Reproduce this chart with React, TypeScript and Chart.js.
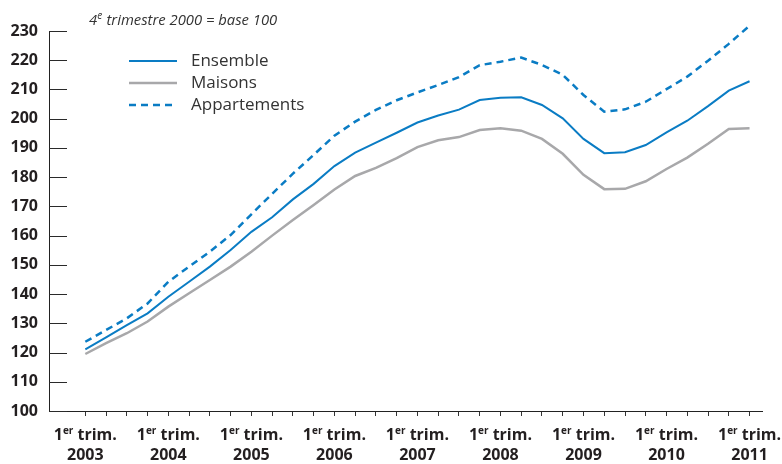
import React, { useEffect, useRef } from 'react';
import { Chart, registerables } from 'chart.js';

Chart.register(...registerables);

const QUARTERS = [
  '2003 T1', '2003 T2', '2003 T3', '2003 T4',
  '2004 T1', '2004 T2', '2004 T3', '2004 T4',
  '2005 T1', '2005 T2', '2005 T3', '2005 T4',
  '2006 T1', '2006 T2', '2006 T3', '2006 T4',
  '2007 T1', '2007 T2', '2007 T3', '2007 T4',
  '2008 T1', '2008 T2', '2008 T3', '2008 T4',
  '2009 T1', '2009 T2', '2009 T3', '2009 T4',
  '2010 T1', '2010 T2', '2010 T3', '2010 T4',
  '2011 T1',
];

const ENSEMBLE = [
  121.1, 125.2, 129.4, 133.4, 139.1, 144.2, 149.4, 155.1,
  161.3, 166.3, 172.4, 177.7, 183.8, 188.4, 191.8, 195.2,
  198.7, 201.1, 203.1, 206.4, 207.2, 207.3, 204.7, 200.1,
  193.1, 188.2, 188.5, 191.0, 195.3, 199.3, 204.3, 209.6,
  212.8,
];

const MAISONS = [
  119.5, 123.2, 126.6, 130.6, 135.7, 140.3, 144.8, 149.4,
  154.5, 160.0, 165.3, 170.5, 175.8, 180.4, 183.2, 186.5,
  190.3, 192.6, 193.7, 196.1, 196.7, 195.9, 193.1, 188.0,
  180.8, 175.9, 176.0, 178.6, 182.8, 186.7, 191.4, 196.5,
  196.7,
];

const APPARTEMENTS = [
  123.7, 127.7, 131.7, 136.8, 144.2, 149.4, 154.5, 160.2,
  167.3, 174.3, 181.2, 187.6, 194.2, 199.0, 203.0, 206.3,
  209.0, 211.5, 214.2, 218.3, 219.5, 220.9, 218.4, 215.0,
  208.1, 202.4, 203.2, 205.8, 210.1, 214.4, 219.8, 225.6,
  231.8,
];

const SERIES_NAMES = ['Ensemble', 'Maisons', 'Appartements'];
const Y_TICKS = [100, 110, 120, 130, 140, 150, 160, 170, 180, 190, 200, 210, 220, 230];
const YEAR_LABELS = ['2003', '2004', '2005', '2006', '2007', '2008', '2009', '2010', '2011'];
const TICK_MAIN = '1';
const TICK_SUP = 'er';
const TICK_REST = ' trim.';
const TITLE_MAIN = '4';
const TITLE_SUP = 'e';
const TITLE_REST = ' trimestre 2000 = base 100';

const BLUE = '#0a7cc4';
const GREY = '#a8a8aa';
const TEXT = '#231f20';
const FONT = '"Open Sans", "DejaVu Sans", sans-serif';

const decorPlugin = {
  id: 'decor',
  afterDraw(chart: any) {
    const ctx = chart.ctx as CanvasRenderingContext2D;
    const area = chart.chartArea;
    const xs = chart.scales.x;
    const ys = chart.scales.y;
    ctx.save();

    // inner y tick marks
    ctx.fillStyle = '#2a2a2a';
    Y_TICKS.forEach((v) => {
      const y = Math.round(ys.getPixelForValue(v));
      ctx.fillRect(Math.floor(area.left), y, 18, 1);
    });

    // x labels with superscript
    ctx.fillStyle = TEXT;
    ctx.textBaseline = 'alphabetic';
    ctx.textAlign = 'left';
    YEAR_LABELS.forEach((year) => {
      const idx = QUARTERS.indexOf(year + ' T1');
      const x = xs.getPixelForValue(idx);
      ctx.font = `bold 16px ${FONT}`;
      const w1 = ctx.measureText(TICK_MAIN).width;
      const w3 = ctx.measureText(TICK_REST).width;
      ctx.font = `bold 10px ${FONT}`;
      const w2 = ctx.measureText(TICK_SUP).width;
      let sx = x - (w1 + w2 + w3) / 2;
      ctx.font = `bold 16px ${FONT}`;
      ctx.fillText(TICK_MAIN, sx, 440);
      sx += w1;
      ctx.font = `bold 10px ${FONT}`;
      ctx.fillText(TICK_SUP, sx, 434);
      sx += w2;
      ctx.font = `bold 16px ${FONT}`;
      ctx.fillText(TICK_REST, sx, 440);
      ctx.textAlign = 'center';
      ctx.fillText(year, x, 460);
      ctx.textAlign = 'left';
    });

    // title
    ctx.fillStyle = '#333';
    let tx = 89;
    ctx.font = `italic 14.8px ${FONT}`;
    ctx.fillText(TITLE_MAIN, tx, 25);
    tx += ctx.measureText(TITLE_MAIN).width;
    ctx.font = `italic 10px ${FONT}`;
    ctx.fillText(TITLE_SUP, tx, 19);
    tx += ctx.measureText(TITLE_SUP).width + 0.5;
    ctx.font = `italic 14.8px ${FONT}`;
    ctx.fillText(TITLE_REST, tx, 25);

    // legend
    const rows = [61, 83, 105];
    chart.data.datasets.forEach((ds: any, i: number) => {
      const y = rows[i];
      ctx.strokeStyle = ds.borderColor;
      ctx.lineWidth = ds.borderWidth;
      ctx.setLineDash(ds.borderDash || []);
      ctx.beginPath();
      ctx.moveTo(129, y);
      ctx.lineTo(177, y);
      ctx.stroke();
      ctx.setLineDash([]);
      ctx.fillStyle = '#333';
      ctx.font = `17px ${FONT}`;
      ctx.fillText(ds.label, 191, y + 5);
    });

    ctx.restore();
  },
};

export default function App() {
  const ref = useRef<HTMLCanvasElement | null>(null);

  useEffect(() => {
    document.body.style.margin = '0';
    const canvas = ref.current;
    if (!canvas) return;
    const toPoints = (arr: number[]) => arr.map((v, i) => ({ x: i, y: v }));
    const chart = new Chart(canvas, {
      type: 'line',
      data: {
        datasets: [
          {
            label: SERIES_NAMES[0],
            data: toPoints(ENSEMBLE),
            borderColor: BLUE,
            borderWidth: 2,
            pointRadius: 0,
            tension: 0,
            clip: false,
          },
          {
            label: SERIES_NAMES[1],
            data: toPoints(MAISONS),
            borderColor: GREY,
            borderWidth: 2.5,
            pointRadius: 0,
            tension: 0,
            clip: false,
          },
          {
            label: SERIES_NAMES[2],
            data: toPoints(APPARTEMENTS),
            borderColor: BLUE,
            borderWidth: 2.5,
            borderDash: [7, 5],
            pointRadius: 0,
            tension: 0,
            clip: false,
          },
        ] as any,
      },
      options: {
        animation: false,
        responsive: false,
        maintainAspectRatio: false,
        layout: { padding: { top: 31, right: 20, left: 0, bottom: 0 } },
        plugins: {
          legend: { display: false },
          tooltip: { enabled: false },
          title: { display: false },
        },
        scales: {
          x: {
            type: 'linear',
            min: -1.75,
            max: 32.6,
            afterBuildTicks: (s: any) => {
              s.ticks = QUARTERS.map((_, i) => ({ value: i }));
            },
            afterFit: (s: any) => {
              s.height = 53;
            },
            grid: {
              display: true,
              drawOnChartArea: false,
              drawTicks: true,
              tickLength: 5,
              color: '#333',
              lineWidth: 1,
            },
            border: { display: true, color: '#222', width: 1 },
            ticks: { display: false },
          },
          y: {
            min: 100,
            max: 230,
            afterBuildTicks: (s: any) => {
              s.ticks = Y_TICKS.map((v) => ({ value: v }));
            },
            afterFit: (s: any) => {
              s.width = 49;
            },
            grid: { display: true, drawOnChartArea: false, drawTicks: false },
            border: { display: true, color: '#222', width: 1 },
            ticks: {
              padding: 11,
              color: TEXT,
              font: { family: FONT, size: 16, weight: 'bold' },
            },
          },
        },
      } as any,
      plugins: [decorPlugin],
    });
    return () => chart.destroy();
  }, []);

  return (
    <canvas ref={ref} width={782} height={464} style={{ display: 'block', width: 782, height: 464 }} />
  );
}
